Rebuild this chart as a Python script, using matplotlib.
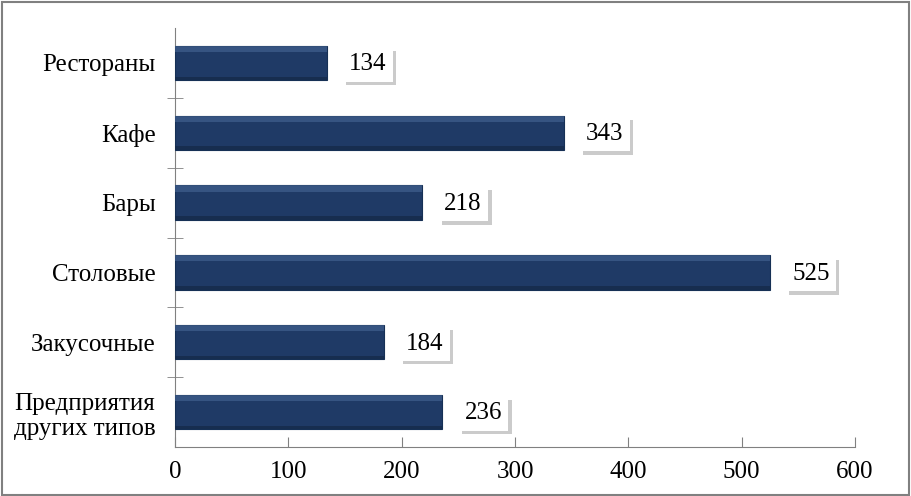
import matplotlib
matplotlib.use("Agg")
import matplotlib.pyplot as plt
import matplotlib.patheffects as pe
from matplotlib.patches import Rectangle

categories = ["Рестораны", "Кафе", "Бары", "Столовые", "Закусочные", "Предприятия\nдругих типов"]
values = [134, 343, 218, 525, 184, 236]
xticks = [0, 100, 200, 300, 400, 500, 600]

plt.rcParams['font.family'] = ['Liberation Serif', 'DejaVu Serif']

fig = plt.figure(figsize=(9.12, 4.96), dpi=100)
ax = fig.add_axes([175/912, 1-447/496, (855-175)/912, (447-28)/496])

ypos = list(range(len(categories)))[::-1]
bars = ax.barh(ypos, values, height=0.49, color='#1F3A66', edgecolor='#163055', linewidth=0.8, zorder=3)
# bevel highlight on top edge
for b in bars:
    x0, y0 = b.get_x(), b.get_y()
    w, h = b.get_width(), b.get_height()
    ax.add_patch(Rectangle((x0, y0 + h*0.82), w, h*0.18, facecolor='#4E6E9E', edgecolor='none', alpha=0.5, zorder=4))
    ax.add_patch(Rectangle((x0, y0), w, h*0.10, facecolor='#142846', edgecolor='none', alpha=0.7, zorder=4))

for y, v in zip(ypos, values):
    t = ax.annotate(str(v), xy=(v, y), xytext=(16, -1), textcoords='offset points',
                    ha='left', va='center', fontsize=18, zorder=6,
                    bbox=dict(boxstyle='square,pad=0.25', fc='white', ec='none'))
    t.get_bbox_patch().set_path_effects([pe.SimplePatchShadow(offset=(2.5, -2.5), shadow_rgbFace='#999999', alpha=0.5), pe.Normal()])

ax.set_xlim(0, 600)
ax.set_ylim(-0.5, len(categories) - 0.5)
ax.set_xticks(xticks)
ax.set_xticklabels([str(x) for x in xticks], fontsize=18)
ax.set_yticks(ypos)
ax.set_yticklabels(categories, fontsize=18, linespacing=1.2)
ax.set_yticks([i + 0.5 for i in range(len(categories) - 1)], minor=True)
ax.tick_params(axis='y', which='major', length=0, pad=14)
ax.tick_params(axis='y', which='minor', direction='inout', length=12, color='#808080')
ax.tick_params(axis='x', direction='in', length=7, color='#808080', pad=10)
for s in ['top', 'right']:
    ax.spines[s].set_visible(False)
for s in ['left', 'bottom']:
    ax.spines[s].set_color('#808080')
for lab in ax.get_yticklabels():
    lab.set_multialignment('center')

fig.patches.append(Rectangle((0.002, 0.003), 0.995, 0.993, transform=fig.transFigure, fill=False, edgecolor='#808080', linewidth=1.5))

fig.savefig('out.png', dpi=100)
